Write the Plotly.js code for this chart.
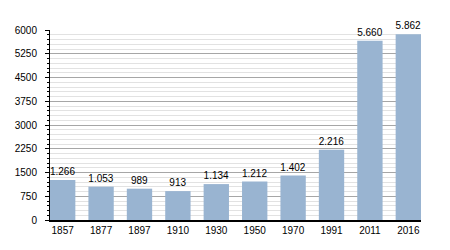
<!DOCTYPE html>
<html>
<head>
<meta charset="utf-8">
<script src="https://cdn.plot.ly/plotly-3.0.1.min.js"></script>
<style>html,body{margin:0;padding:0;background:#fff;}#chart{width:450px;height:250px;}</style>
</head>
<body>
<div id="chart"></div>
<script>
var years = ['1857','1877','1897','1910','1930','1950','1970','1991','2011','2016'];
var population = [1266, 1053, 989, 913, 1134, 1212, 1402, 2216, 5660, 5862];
var yTicks = [0, 750, 1500, 2250, 3000, 3750, 4500, 5250, 6000];

var trace = {
  type: 'bar',
  x: years,
  y: population,
  marker: {color: '#99b4d1', line: {width: 0}},
  width: 0.66,
  texttemplate: '%{y:,}',
  textposition: 'outside',
  constraintext: 'none',
  cliponaxis: false,
  textfont: {family: 'Liberation Sans, Arial, sans-serif', size: 10, color: '#000'},
  hoverinfo: 'none'
};

var layout = {
  width: 450, height: 250,
  margin: {l: 50, r: 29, t: 30, b: 30},
  paper_bgcolor: '#fff', plot_bgcolor: '#fff',
  separators: ',.',
  showlegend: false,
  font: {family: 'Liberation Sans, Arial, sans-serif', size: 10, color: '#000'},
  bargap: 0.34,
  xaxis: {
    type: 'category',
    range: [-0.33, 9.33],
    showline: true, linecolor: '#000', linewidth: 1.5,
    ticks: '', showgrid: false, zeroline: false,
    tickfont: {size: 10}
  },
  yaxis: {
    range: [0, 6000],
    tickmode: 'array', tickvals: yTicks,
    showline: true, linecolor: '#000', linewidth: 1,
    ticks: 'outside', ticklen: 4, tickcolor: '#000',
    ticklabelstandoff: 6,
    showgrid: true, gridcolor: '#a6a6a6', gridwidth: 1,
    zeroline: false,
    tickfont: {size: 10},
    minor: {dtick: 150, showgrid: true, gridcolor: '#e2e2e2', gridwidth: 1, ticks: 'outside', ticklen: 2, tickcolor: '#000'}
  }
};

Plotly.newPlot('chart', [trace], layout, {staticPlot: true});
</script>
</body>
</html>
